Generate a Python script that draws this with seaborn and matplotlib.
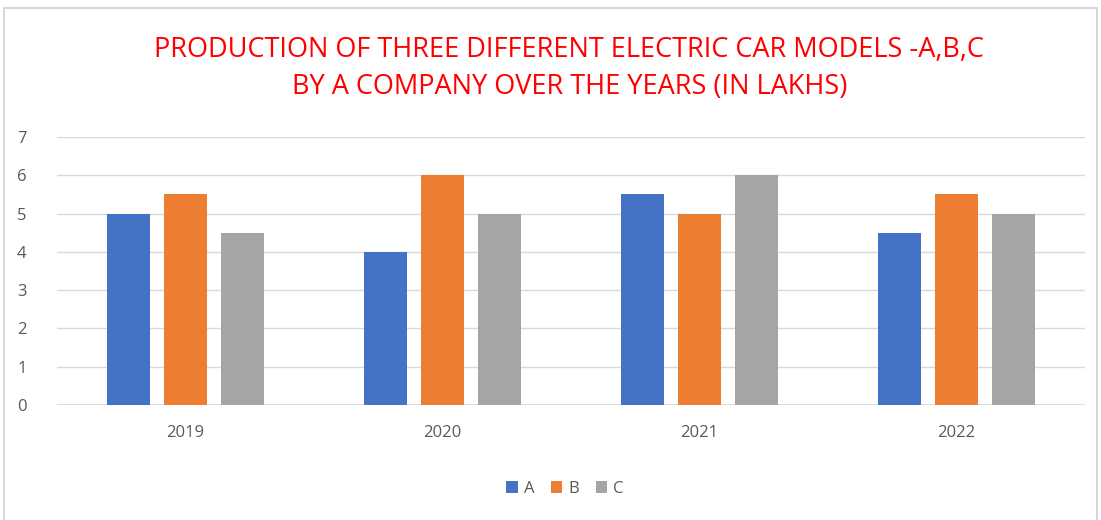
import matplotlib
matplotlib.use("Agg")
import matplotlib.pyplot as plt
import matplotlib.patches as mpatches
import seaborn as sns
import pandas as pd

years = ["2019", "2020", "2021", "2022"]
models = ["A", "B", "C"]
model_a = [5, 4, 5.5, 4.5]
model_b = [5.5, 6, 5, 5.5]
model_c = [4.5, 5, 6, 5]
y_ticks = [0, 1, 2, 3, 4, 5, 6, 7]
colors = ["#4472C4", "#ED7D31", "#A5A5A5"]
title = ("PRODUCTION OF THREE DIFFERENT ELECTRIC CAR MODELS -A,B,C\n"
         "BY A COMPANY OVER THE YEARS (IN LAKHS)")

df = pd.DataFrame({
    "Year": years * 3,
    "Model": [m for m in models for _ in years],
    "Value": model_a + model_b + model_c,
})

sns.set_theme(style="white")
plt.rcParams["font.family"] = ["Open Sans", "DejaVu Sans"]

fig = plt.figure(figsize=(11.01, 5.20), dpi=100)
ax = fig.add_axes([0.0518, 0.221, 0.9337, 0.5155])

sns.barplot(data=df, x="Year", y="Value", hue="Model", order=years,
            hue_order=models, palette=colors, width=0.665, gap=0.23,
            saturation=1, linewidth=0, ax=ax, legend=True)

ax.set_ylim(0, 7)
ax.set_yticks(y_ticks)
ax.set_xlim(-0.5, 3.5)
ax.yaxis.grid(True, color="#D9D9D9", linewidth=1)
ax.set_axisbelow(True)
for s in ax.spines.values():
    s.set_visible(False)
ax.axhline(0, color="#D9D9D9", linewidth=1.2, zorder=0.5)
ax.set_xlabel("")
ax.set_ylabel("")
ax.tick_params(axis="both", length=0, labelsize=12, labelcolor="#595959")
ax.tick_params(axis="y", pad=22)
ax.tick_params(axis="x", pad=14)

fig.text(0.517, 0.869, title, ha="center", va="center", color="#FF0000",
         fontsize=19.5, linespacing=1.42)

handles, labels = ax.get_legend_handles_labels()
ax.legend_.remove()
fig.legend(handles, labels, loc="center", bbox_to_anchor=(0.513, 0.06),
           ncol=3, frameon=False, fontsize=12, handlelength=0.7,
           handleheight=0.7, handletextpad=0.35, columnspacing=1.0,
           labelcolor="#595959")

# chart area border
fig.patches.append(mpatches.Rectangle((0.004, -0.05), 0.992, 1.035,
                                      transform=fig.transFigure, fill=False,
                                      edgecolor="#D0D0D0", linewidth=1.2))

fig.savefig("out.png", dpi=100)
